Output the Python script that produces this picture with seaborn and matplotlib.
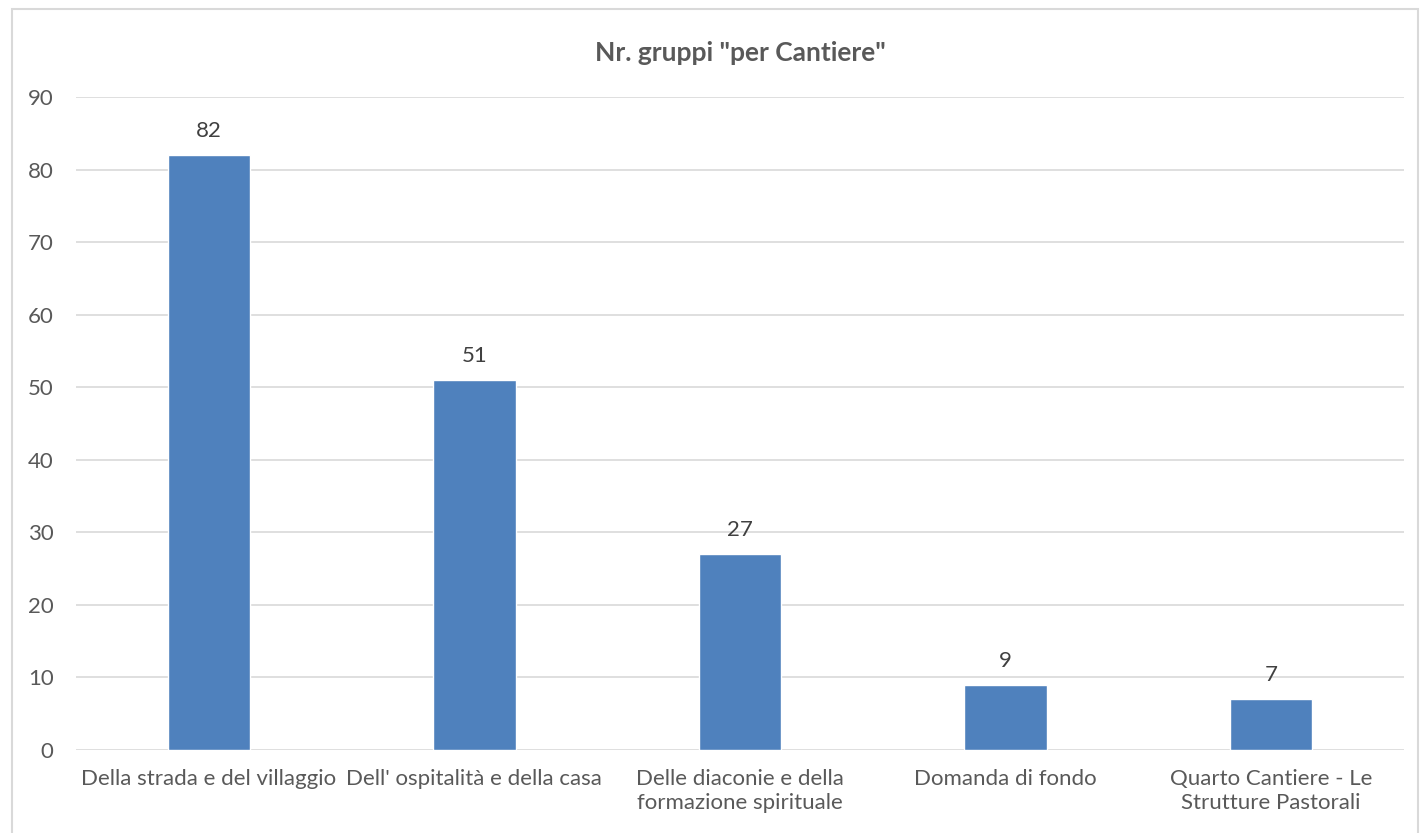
import matplotlib
matplotlib.use("Agg")
import matplotlib.pyplot as plt
import seaborn as sns
import pandas as pd

categories = [
    "Della strada e del villaggio",
    "Dell' ospitalità e della casa",
    "Delle diaconie e della\nformazione spirituale",
    "Domanda di fondo",
    "Quarto Cantiere - Le\nStrutture Pastorali",
]
values = [82, 51, 27, 9, 7]
yticks = [0, 10, 20, 30, 40, 50, 60, 70, 80, 90]
title = 'Nr. gruppi "per Cantiere"'

df = pd.DataFrame({"cantiere": categories, "gruppi": values})

sns.set_style("white")
plt.rcParams["font.family"] = ["Lato", "DejaVu Sans"]

fig = plt.figure(figsize=(14.2, 8.33), dpi=100)
ax = fig.add_axes([0.0535, 0.0996, 0.9352, 0.784])

sns.barplot(data=df, x="cantiere", y="gruppi", color="#4F81BD", width=0.31,
            saturation=1, ax=ax, zorder=3)

ax.set_ylim(0, 90)
ax.set_yticks(yticks)
ax.grid(axis="y", color="#D9D9D9", linewidth=1.2, zorder=0)
for s in ax.spines.values():
    s.set_visible(False)
ax.tick_params(axis="both", length=0, labelsize=16, colors="#595959")
ax.tick_params(axis="x", pad=14)
ax.tick_params(axis="y", pad=16)
ax.set_xlabel("")
ax.set_ylabel("")

for c in ax.containers:
    ax.bar_label(c, padding=10, fontsize=16, color="#404040")

ax.set_title(title, fontsize=19, fontweight="bold", color="#595959", pad=26)

# outer border of the chart
fig.patches.append(plt.Rectangle((0.0085, -0.01), 0.99, 0.999, transform=fig.transFigure,
                                 fill=False, edgecolor="#D9D9D9", linewidth=1.5))

fig.savefig("out.png", dpi=100)
